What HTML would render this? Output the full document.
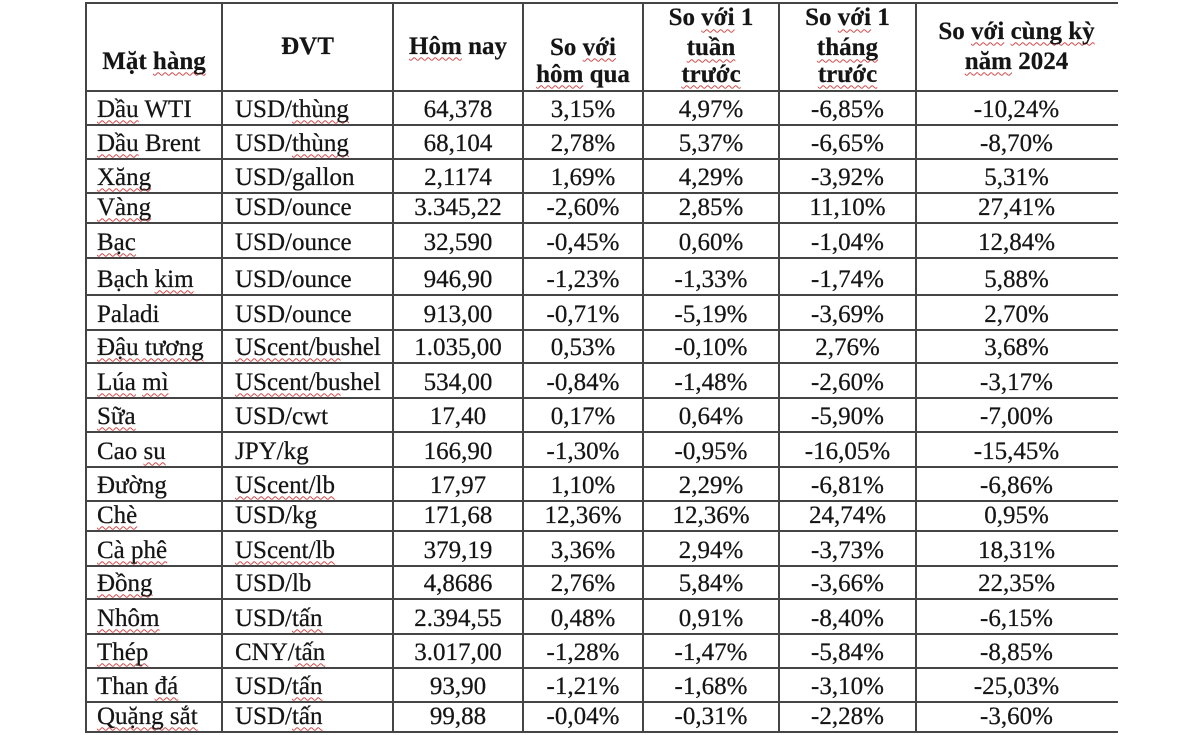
<!DOCTYPE html>
<html>
<head>
<meta charset="utf-8">
<style>
html,body{margin:0;padding:0;background:#fff;}
body{width:1200px;height:735px;position:relative;overflow:hidden;font-family:"Liberation Serif","Noto Serif CJK SC",serif;color:#151515;}
.v{position:absolute;top:2px;height:731px;width:2px;background:#454545;}
.h{position:absolute;left:85px;width:1033px;height:2px;background:#454545;}
.r{position:absolute;left:0;width:1200px;height:28px;line-height:28px;font-size:25px;-webkit-text-stroke:0.25px #151515;}
.r div{position:absolute;top:0;white-space:nowrap;}
.hd{font-weight:bold;-webkit-text-stroke:0.2px #151515;}
.a{left:97px;}
.b{left:235px;}
.c{left:393px;width:130px;text-align:center;}
.d{left:523px;width:120px;text-align:center;}
.e{left:643px;width:136px;text-align:center;}
.f{left:779px;width:137px;text-align:center;}
.g{left:916px;width:201px;text-align:center;}
.ca{left:86px;width:136px;text-align:center;}
.cb{left:222px;width:171px;text-align:center;}
.u{text-decoration:underline wavy #d04a4a;text-decoration-thickness:1px;text-underline-offset:3px;text-decoration-skip-ink:none;}
</style>
</head>
<body>
<!-- vertical lines -->
<div class="v" style="left:85px"></div>
<div class="v" style="left:221px"></div>
<div class="v" style="left:392px"></div>
<div class="v" style="left:522px"></div>
<div class="v" style="left:642px"></div>
<div class="v" style="left:778px"></div>
<div class="v" style="left:915px"></div>
<!-- horizontal lines -->
<div class="h" style="top:2px"></div>
<div class="h" style="top:90px"></div>
<div class="h" style="top:124px"></div>
<div class="h" style="top:158px"></div>
<div class="h" style="top:192px"></div>
<div class="h" style="top:222px"></div>
<div class="h" style="top:257px"></div>
<div class="h" style="top:294px"></div>
<div class="h" style="top:329px"></div>
<div class="h" style="top:362px"></div>
<div class="h" style="top:397px"></div>
<div class="h" style="top:431px"></div>
<div class="h" style="top:466px"></div>
<div class="h" style="top:500px"></div>
<div class="h" style="top:530px"></div>
<div class="h" style="top:565px"></div>
<div class="h" style="top:598px"></div>
<div class="h" style="top:633px"></div>
<div class="h" style="top:667px"></div>
<div class="h" style="top:701px"></div>
<div class="h" style="top:731px"></div>

<!-- header -->
<div class="r hd" style="top:47.6px"><div class="ca">Mặt <span class="u">hàng</span></div></div>
<div class="r hd" style="top:32.6px"><div class="cb">ĐVT</div><div class="c"><span class="u">Hôm</span> nay</div></div>
<div class="r hd" style="top:33.6px"><div class="d">So <span class="u">với</span></div></div>
<div class="r hd" style="top:60.6px"><div class="d"><span class="u">hôm</span> qua</div></div>
<div class="r hd" style="top:4.3px"><div class="e">So <span class="u">với</span> 1</div><div class="f">So <span class="u">với</span> 1</div></div>
<div class="r hd" style="top:34.3px"><div class="e"><span class="u">tuần</span></div><div class="f"><span class="u">tháng</span></div></div>
<div class="r hd" style="top:60.6px"><div class="e"><span class="u">trước</span></div><div class="f"><span class="u">trước</span></div></div>
<div class="r hd" style="top:17.6px"><div class="g">So <span class="u">với</span> <span class="u">cùng kỳ</span></div></div>
<div class="r hd" style="top:47.6px"><div class="g"><span class="u">năm</span> 2024</div></div>

<!-- data rows -->
<div class="r" style="top:95.6px"><div class="a"><span class="u">Dầu</span> WTI</div><div class="b">USD/<span class="u">thùng</span></div><div class="c">64,378</div><div class="d">3,15%</div><div class="e">4,97%</div><div class="f">-6,85%</div><div class="g">-10,24%</div></div>
<div class="r" style="top:129.6px"><div class="a"><span class="u">Dầu</span> Brent</div><div class="b">USD/<span class="u">thùng</span></div><div class="c">68,104</div><div class="d">2,78%</div><div class="e">5,37%</div><div class="f">-6,65%</div><div class="g">-8,70%</div></div>
<div class="r" style="top:163.6px"><div class="a"><span class="u">Xăng</span></div><div class="b">USD/gallon</div><div class="c">2,1174</div><div class="d">1,69%</div><div class="e">4,29%</div><div class="f">-3,92%</div><div class="g">5,31%</div></div>
<div class="r" style="top:193.6px"><div class="a"><span class="u">Vàng</span></div><div class="b">USD/ounce</div><div class="c">3.345,22</div><div class="d">-2,60%</div><div class="e">2,85%</div><div class="f">11,10%</div><div class="g">27,41%</div></div>
<div class="r" style="top:228.6px"><div class="a"><span class="u">Bạc</span></div><div class="b">USD/ounce</div><div class="c">32,590</div><div class="d">-0,45%</div><div class="e">0,60%</div><div class="f">-1,04%</div><div class="g">12,84%</div></div>
<div class="r" style="top:265.6px"><div class="a">Bạch <span class="u">kim</span></div><div class="b">USD/ounce</div><div class="c">946,90</div><div class="d">-1,23%</div><div class="e">-1,33%</div><div class="f">-1,74%</div><div class="g">5,88%</div></div>
<div class="r" style="top:300.6px"><div class="a">Paladi</div><div class="b">USD/ounce</div><div class="c">913,00</div><div class="d">-0,71%</div><div class="e">-5,19%</div><div class="f">-3,69%</div><div class="g">2,70%</div></div>
<div class="r" style="top:333.6px"><div class="a"><span class="u">Đậu tương</span></div><div class="b"><span class="u">UScent/bu</span>shel</div><div class="c">1.035,00</div><div class="d">0,53%</div><div class="e">-0,10%</div><div class="f">2,76%</div><div class="g">3,68%</div></div>
<div class="r" style="top:368.6px"><div class="a"><span class="u">Lúa</span> <span class="u">mì</span></div><div class="b"><span class="u">UScent/bu</span>shel</div><div class="c">534,00</div><div class="d">-0,84%</div><div class="e">-1,48%</div><div class="f">-2,60%</div><div class="g">-3,17%</div></div>
<div class="r" style="top:402.6px"><div class="a"><span class="u">Sữa</span></div><div class="b">USD/cwt</div><div class="c">17,40</div><div class="d">0,17%</div><div class="e">0,64%</div><div class="f">-5,90%</div><div class="g">-7,00%</div></div>
<div class="r" style="top:437.6px"><div class="a">Cao <span class="u">su</span></div><div class="b">JPY/kg</div><div class="c">166,90</div><div class="d">-1,30%</div><div class="e">-0,95%</div><div class="f">-16,05%</div><div class="g">-15,45%</div></div>
<div class="r" style="top:471.6px"><div class="a">Đường</div><div class="b"><span class="u">UScent/lb</span></div><div class="c">17,97</div><div class="d">1,10%</div><div class="e">2,29%</div><div class="f">-6,81%</div><div class="g">-6,86%</div></div>
<div class="r" style="top:501.6px"><div class="a"><span class="u">Chè</span></div><div class="b">USD/kg</div><div class="c">171,68</div><div class="d">12,36%</div><div class="e">12,36%</div><div class="f">24,74%</div><div class="g">0,95%</div></div>
<div class="r" style="top:536.6px"><div class="a"><span class="u">Cà phê</span></div><div class="b"><span class="u">UScent/lb</span></div><div class="c">379,19</div><div class="d">3,36%</div><div class="e">2,94%</div><div class="f">-3,73%</div><div class="g">18,31%</div></div>
<div class="r" style="top:569.6px"><div class="a"><span class="u">Đồng</span></div><div class="b">USD/lb</div><div class="c">4,8686</div><div class="d">2,76%</div><div class="e">5,84%</div><div class="f">-3,66%</div><div class="g">22,35%</div></div>
<div class="r" style="top:604.6px"><div class="a"><span class="u">Nhôm</span></div><div class="b">USD/<span class="u">tấn</span></div><div class="c">2.394,55</div><div class="d">0,48%</div><div class="e">0,91%</div><div class="f">-8,40%</div><div class="g">-6,15%</div></div>
<div class="r" style="top:638.6px"><div class="a"><span class="u">Thép</span></div><div class="b">CNY/<span class="u">tấn</span></div><div class="c">3.017,00</div><div class="d">-1,28%</div><div class="e">-1,47%</div><div class="f">-5,84%</div><div class="g">-8,85%</div></div>
<div class="r" style="top:672.6px"><div class="a">Than <span class="u">đá</span></div><div class="b">USD/<span class="u">tấn</span></div><div class="c">93,90</div><div class="d">-1,21%</div><div class="e">-1,68%</div><div class="f">-3,10%</div><div class="g">-25,03%</div></div>
<div class="r" style="top:702.6px"><div class="a"><span class="u">Quặng sắt</span></div><div class="b">USD/<span class="u">tấn</span></div><div class="c">99,88</div><div class="d">-0,04%</div><div class="e">-0,31%</div><div class="f">-2,28%</div><div class="g">-3,60%</div></div>
</body>
</html>
